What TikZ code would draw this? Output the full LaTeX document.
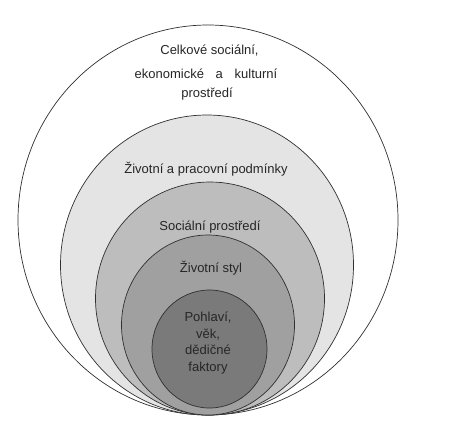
\documentclass[tikz,border=0pt]{standalone}
\usepackage{fontspec}
\setmainfont{Liberation Sans}
\definecolor{ring1}{HTML}{E4E4E4}
\definecolor{ring2}{HTML}{BDBDBD}
\definecolor{ring3}{HTML}{A0A0A0}
\definecolor{ring4}{HTML}{7A7A7A}
\definecolor{edge}{HTML}{303030}
\begin{document}
\begin{tikzpicture}[x=1pt,y=-1pt,font=\fontsize{13}{15}\selectfont,
  ring/.style={draw=edge,line width=0.7pt},
  lbl/.style={inner sep=0pt,align=center,text=black!85}]
\useasboundingbox (0,0) rectangle (449,429);

% nested spheres of influence
\coordinate (o1) at (208,220);
\coordinate (o2) at (207,265);
\coordinate (o3) at (210,298.5);
\coordinate (o4) at (208,325);
\coordinate (o5) at (209.5,349);

\draw[ring, fill=white] (o1) ellipse [x radius=190, y radius=195];
\draw[ring, fill=ring1] (o2) ellipse [x radius=146.5, y radius=150];
\draw[ring, fill=ring2] (o3) ellipse [x radius=114.5, y radius=116.5];
\draw[ring, fill=ring3] (o4) ellipse [x radius=86.5, y radius=90];
\draw[ring, fill=ring4] (o5) ellipse [x radius=57.5, y radius=59];

% labels
\node[lbl] (celk1) at (209.5,51) {Celkové sociální,};
\node[lbl] (celk2) at (206,74) {ekonomické\hspace{0.9em}a\hspace{0.9em}kulturní};
\node[lbl] (celk3) at (207,94) {prostředí};
\node[lbl] (prac) at (206,169) {Životní a pracovní podmínky};
\node[lbl] (soc) at (210,227) {Sociální prostředí};
\node[lbl] (styl) at (211,268) {Životní styl};
\node[lbl,font=\fontsize{13}{16.7}\selectfont] (pohl) at (208,343) {Pohlaví,\\věk,\\dědičné\\faktory};

\end{tikzpicture}
\end{document}
